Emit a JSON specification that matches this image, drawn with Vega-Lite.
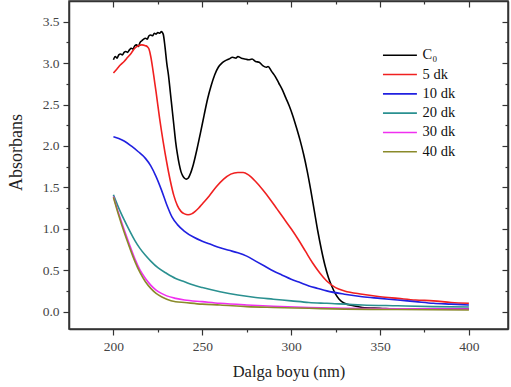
{
  "$schema": "https://vega.github.io/schema/vega-lite/v6.json",
  "width": 439,
  "height": 328,
  "autosize": {"type": "none"},
  "padding": {"left": 69, "top": 1, "right": 3, "bottom": 58},
  "background": "white",
  "config": {
    "view": {"stroke": "#333", "strokeWidth": 1.5},
    "axis": {"labelFont": "Liberation Serif", "labelFontSize": 13.5, "labelColor": "#444", "titleFont": "Liberation Serif", "titleFontSize": 16.5, "titleFontWeight": "normal", "titleColor": "#222", "domainColor": "#333", "domainWidth": 1.5, "tickColor": "#333", "tickWidth": 1.2, "grid": false}
  },
  "data": {"values": [
    {"s":"C₀","x":200,"y":3.04},{"s":"C₀","x":201,"y":3.08},{"s":"C₀","x":202,"y":3.06},{"s":"C₀","x":203,"y":3.10},{"s":"C₀","x":204,"y":3.11},{"s":"C₀","x":205,"y":3.10},{"s":"C₀","x":206,"y":3.13},{"s":"C₀","x":207,"y":3.14},{"s":"C₀","x":208,"y":3.13},{"s":"C₀","x":209,"y":3.16},{"s":"C₀","x":210,"y":3.18},{"s":"C₀","x":211,"y":3.17},{"s":"C₀","x":212,"y":3.21},{"s":"C₀","x":213,"y":3.22},{"s":"C₀","x":214,"y":3.20},{"s":"C₀","x":215,"y":3.25},{"s":"C₀","x":216,"y":3.27},{"s":"C₀","x":217,"y":3.29},{"s":"C₀","x":218,"y":3.30},{"s":"C₀","x":219,"y":3.29},{"s":"C₀","x":220,"y":3.33},{"s":"C₀","x":221,"y":3.34},{"s":"C₀","x":222,"y":3.33},{"s":"C₀","x":223,"y":3.36},{"s":"C₀","x":224,"y":3.35},{"s":"C₀","x":225,"y":3.37},{"s":"C₀","x":226,"y":3.36},{"s":"C₀","x":227,"y":3.38},{"s":"C₀","x":228,"y":3.35},{"s":"C₀","x":229,"y":3.20},{"s":"C₀","x":230,"y":3.00},{"s":"C₀","x":231,"y":2.85},{"s":"C₀","x":232,"y":2.65},{"s":"C₀","x":233,"y":2.45},{"s":"C₀","x":234,"y":2.25},{"s":"C₀","x":235,"y":2.05},{"s":"C₀","x":236,"y":1.90},{"s":"C₀","x":237,"y":1.78},{"s":"C₀","x":238,"y":1.69},{"s":"C₀","x":239,"y":1.64},{"s":"C₀","x":240,"y":1.61},{"s":"C₀","x":241,"y":1.60},{"s":"C₀","x":242,"y":1.61},{"s":"C₀","x":243,"y":1.65},{"s":"C₀","x":245,"y":1.78},{"s":"C₀","x":247,"y":1.96},{"s":"C₀","x":249,"y":2.16},{"s":"C₀","x":251,"y":2.37},{"s":"C₀","x":253,"y":2.57},{"s":"C₀","x":255,"y":2.73},{"s":"C₀","x":257,"y":2.86},{"s":"C₀","x":259,"y":2.95},{"s":"C₀","x":261,"y":3.00},{"s":"C₀","x":263,"y":3.03},{"s":"C₀","x":265,"y":3.05},{"s":"C₀","x":267,"y":3.07},{"s":"C₀","x":269,"y":3.06},{"s":"C₀","x":270,"y":3.08},{"s":"C₀","x":272,"y":3.06},{"s":"C₀","x":274,"y":3.05},{"s":"C₀","x":276,"y":3.04},{"s":"C₀","x":278,"y":3.05},{"s":"C₀","x":280,"y":3.02},{"s":"C₀","x":282,"y":3.01},{"s":"C₀","x":284,"y":2.97},{"s":"C₀","x":286,"y":2.95},{"s":"C₀","x":287,"y":2.96},{"s":"C₀","x":289,"y":2.90},{"s":"C₀","x":291,"y":2.84},{"s":"C₀","x":293,"y":2.76},{"s":"C₀","x":295,"y":2.68},{"s":"C₀","x":297,"y":2.58},{"s":"C₀","x":299,"y":2.48},{"s":"C₀","x":301,"y":2.36},{"s":"C₀","x":303,"y":2.22},{"s":"C₀","x":305,"y":2.07},{"s":"C₀","x":307,"y":1.90},{"s":"C₀","x":309,"y":1.70},{"s":"C₀","x":311,"y":1.47},{"s":"C₀","x":313,"y":1.22},{"s":"C₀","x":315,"y":0.97},{"s":"C₀","x":317,"y":0.75},{"s":"C₀","x":319,"y":0.56},{"s":"C₀","x":321,"y":0.41},{"s":"C₀","x":323,"y":0.30},{"s":"C₀","x":325,"y":0.21},{"s":"C₀","x":327,"y":0.15},{"s":"C₀","x":330,"y":0.10},{"s":"C₀","x":335,"y":0.07},{"s":"C₀","x":340,"y":0.05},{"s":"C₀","x":350,"y":0.04},{"s":"C₀","x":360,"y":0.03},{"s":"C₀","x":380,"y":0.03},{"s":"C₀","x":400,"y":0.03},
    {"s":"5 dk","x":200,"y":2.88},{"s":"5 dk","x":202,"y":2.93},{"s":"5 dk","x":204,"y":2.98},{"s":"5 dk","x":206,"y":3.02},{"s":"5 dk","x":208,"y":3.07},{"s":"5 dk","x":210,"y":3.12},{"s":"5 dk","x":212,"y":3.18},{"s":"5 dk","x":214,"y":3.21},{"s":"5 dk","x":216,"y":3.22},{"s":"5 dk","x":218,"y":3.21},{"s":"5 dk","x":219,"y":3.20},{"s":"5 dk","x":220,"y":3.17},{"s":"5 dk","x":221,"y":3.08},{"s":"5 dk","x":222,"y":2.95},{"s":"5 dk","x":223,"y":2.80},{"s":"5 dk","x":224,"y":2.65},{"s":"5 dk","x":226,"y":2.33},{"s":"5 dk","x":228,"y":2.05},{"s":"5 dk","x":230,"y":1.80},{"s":"5 dk","x":232,"y":1.58},{"s":"5 dk","x":234,"y":1.40},{"s":"5 dk","x":236,"y":1.28},{"s":"5 dk","x":238,"y":1.21},{"s":"5 dk","x":240,"y":1.18},{"s":"5 dk","x":242,"y":1.17},{"s":"5 dk","x":244,"y":1.18},{"s":"5 dk","x":246,"y":1.21},{"s":"5 dk","x":248,"y":1.25},{"s":"5 dk","x":250,"y":1.30},{"s":"5 dk","x":254,"y":1.40},{"s":"5 dk","x":258,"y":1.51},{"s":"5 dk","x":262,"y":1.60},{"s":"5 dk","x":266,"y":1.66},{"s":"5 dk","x":270,"y":1.68},{"s":"5 dk","x":273,"y":1.68},{"s":"5 dk","x":276,"y":1.65},{"s":"5 dk","x":280,"y":1.57},{"s":"5 dk","x":284,"y":1.47},{"s":"5 dk","x":288,"y":1.36},{"s":"5 dk","x":292,"y":1.24},{"s":"5 dk","x":296,"y":1.12},{"s":"5 dk","x":300,"y":1.00},{"s":"5 dk","x":304,"y":0.87},{"s":"5 dk","x":308,"y":0.73},{"s":"5 dk","x":312,"y":0.59},{"s":"5 dk","x":316,"y":0.47},{"s":"5 dk","x":320,"y":0.37},{"s":"5 dk","x":325,"y":0.29},{"s":"5 dk","x":330,"y":0.25},{"s":"5 dk","x":340,"y":0.21},{"s":"5 dk","x":350,"y":0.18},{"s":"5 dk","x":360,"y":0.16},{"s":"5 dk","x":370,"y":0.14},{"s":"5 dk","x":380,"y":0.13},{"s":"5 dk","x":390,"y":0.11},{"s":"5 dk","x":400,"y":0.10},
    {"s":"10 dk","x":200,"y":2.11},{"s":"10 dk","x":203,"y":2.09},{"s":"10 dk","x":206,"y":2.06},{"s":"10 dk","x":210,"y":2.00},{"s":"10 dk","x":214,"y":1.93},{"s":"10 dk","x":218,"y":1.85},{"s":"10 dk","x":221,"y":1.76},{"s":"10 dk","x":224,"y":1.63},{"s":"10 dk","x":227,"y":1.47},{"s":"10 dk","x":230,"y":1.29},{"s":"10 dk","x":233,"y":1.14},{"s":"10 dk","x":236,"y":1.05},{"s":"10 dk","x":240,"y":0.97},{"s":"10 dk","x":245,"y":0.90},{"s":"10 dk","x":250,"y":0.85},{"s":"10 dk","x":255,"y":0.81},{"s":"10 dk","x":260,"y":0.77},{"s":"10 dk","x":265,"y":0.74},{"s":"10 dk","x":270,"y":0.71},{"s":"10 dk","x":275,"y":0.67},{"s":"10 dk","x":280,"y":0.61},{"s":"10 dk","x":285,"y":0.55},{"s":"10 dk","x":290,"y":0.49},{"s":"10 dk","x":295,"y":0.44},{"s":"10 dk","x":300,"y":0.39},{"s":"10 dk","x":305,"y":0.35},{"s":"10 dk","x":310,"y":0.31},{"s":"10 dk","x":315,"y":0.28},{"s":"10 dk","x":320,"y":0.25},{"s":"10 dk","x":330,"y":0.21},{"s":"10 dk","x":340,"y":0.18},{"s":"10 dk","x":350,"y":0.16},{"s":"10 dk","x":360,"y":0.14},{"s":"10 dk","x":370,"y":0.12},{"s":"10 dk","x":380,"y":0.10},{"s":"10 dk","x":390,"y":0.09},{"s":"10 dk","x":400,"y":0.08},
    {"s":"20 dk","x":200,"y":1.41},{"s":"20 dk","x":203,"y":1.25},{"s":"20 dk","x":206,"y":1.11},{"s":"20 dk","x":209,"y":0.98},{"s":"20 dk","x":212,"y":0.86},{"s":"20 dk","x":215,"y":0.76},{"s":"20 dk","x":218,"y":0.68},{"s":"20 dk","x":221,"y":0.61},{"s":"20 dk","x":225,"y":0.53},{"s":"20 dk","x":230,"y":0.46},{"s":"20 dk","x":235,"y":0.40},{"s":"20 dk","x":240,"y":0.36},{"s":"20 dk","x":245,"y":0.32},{"s":"20 dk","x":250,"y":0.29},{"s":"20 dk","x":260,"y":0.24},{"s":"20 dk","x":270,"y":0.20},{"s":"20 dk","x":280,"y":0.17},{"s":"20 dk","x":290,"y":0.15},{"s":"20 dk","x":300,"y":0.13},{"s":"20 dk","x":310,"y":0.11},{"s":"20 dk","x":320,"y":0.10},{"s":"20 dk","x":340,"y":0.08},{"s":"20 dk","x":360,"y":0.07},{"s":"20 dk","x":380,"y":0.06},{"s":"20 dk","x":400,"y":0.055},
    {"s":"30 dk","x":200,"y":1.39},{"s":"30 dk","x":203,"y":1.18},{"s":"30 dk","x":206,"y":0.99},{"s":"30 dk","x":209,"y":0.81},{"s":"30 dk","x":212,"y":0.64},{"s":"30 dk","x":215,"y":0.50},{"s":"30 dk","x":218,"y":0.40},{"s":"30 dk","x":221,"y":0.32},{"s":"30 dk","x":224,"y":0.26},{"s":"30 dk","x":227,"y":0.22},{"s":"30 dk","x":230,"y":0.19},{"s":"30 dk","x":235,"y":0.16},{"s":"30 dk","x":240,"y":0.14},{"s":"30 dk","x":250,"y":0.12},{"s":"30 dk","x":260,"y":0.10},{"s":"30 dk","x":275,"y":0.08},{"s":"30 dk","x":290,"y":0.065},{"s":"30 dk","x":310,"y":0.05},{"s":"30 dk","x":330,"y":0.04},{"s":"30 dk","x":360,"y":0.035},{"s":"30 dk","x":400,"y":0.03},
    {"s":"40 dk","x":200,"y":1.38},{"s":"40 dk","x":203,"y":1.16},{"s":"40 dk","x":206,"y":0.96},{"s":"40 dk","x":209,"y":0.78},{"s":"40 dk","x":212,"y":0.61},{"s":"40 dk","x":215,"y":0.47},{"s":"40 dk","x":218,"y":0.36},{"s":"40 dk","x":221,"y":0.28},{"s":"40 dk","x":224,"y":0.22},{"s":"40 dk","x":227,"y":0.18},{"s":"40 dk","x":230,"y":0.15},{"s":"40 dk","x":235,"y":0.12},{"s":"40 dk","x":240,"y":0.11},{"s":"40 dk","x":250,"y":0.09},{"s":"40 dk","x":260,"y":0.08},{"s":"40 dk","x":275,"y":0.06},{"s":"40 dk","x":290,"y":0.05},{"s":"40 dk","x":310,"y":0.04},{"s":"40 dk","x":330,"y":0.03},{"s":"40 dk","x":360,"y":0.025},{"s":"40 dk","x":400,"y":0.02}
  ]},
  "layer": [
    {
      "mark": {"type": "line", "strokeWidth": 1.6, "interpolate": "monotone"},
      "encoding": {
        "x": {"field": "x", "type": "quantitative", "scale": {"domain": [175, 422], "nice": false, "zero": false},
          "axis": {"title": "Dalga boyu (nm)", "orient": "bottom", "values": [200,225,250,275,300,325,350,375,400],
            "labelExpr": "datum.value % 50 === 0 ? datum.label : ''",
            "tickSize": {"condition": {"test": "datum.value % 50 === 0", "value": 6}, "value": 3},
            "labelPadding": 4, "titlePadding": 11}},
        "y": {"field": "y", "type": "quantitative", "scale": {"domain": [-0.21, 3.75], "nice": false, "zero": false},
          "axis": {"title": "Absorbans", "titleFontSize": 18, "titleY": 151, "orient": "left", "values": [0,0.25,0.5,0.75,1,1.25,1.5,1.75,2,2.25,2.5,2.75,3,3.25,3.5],
            "labelExpr": "datum.value % 0.5 === 0 ? format(datum.value, '.1f') : ''",
            "tickSize": {"condition": {"test": "datum.value % 0.5 === 0", "value": 6}, "value": 3},
            "labelPadding": 4, "titlePadding": 17}},
        "color": {"field": "s", "type": "nominal", "sort": ["C₀","5 dk","10 dk","20 dk","30 dk","40 dk"],
          "scale": {"domain": ["C₀","5 dk","10 dk","20 dk","30 dk","40 dk"], "range": ["#000000","#f02020","#2020e0","#2a9090","#f030f0","#8a8a2a"]},
          "legend": {"title": null, "orient": "none", "legendX": 335, "legendY": 47, "padding": 0,
            "symbolType": "M-5,0H1", "symbolSize": 128, "symbolStrokeWidth": 1.6, "symbolFillColor": "transparent", "labelFont": "Liberation Serif", "labelFontSize": 14.5, "labelColor": "#111", "labelOffset": 4, "rowPadding": 4.3}}
      }
    },
    {
      "mark": {"type": "line", "opacity": 0},
      "encoding": {
        "x": {"field": "x", "type": "quantitative",
          "axis": {"title": null, "orient": "top", "labels": false, "values": [200,225,250,275,300,325,350,375,400],
            "tickSize": {"condition": {"test": "datum.value % 50 === 0", "value": -6}, "value": -3}}},
        "y": {"field": "y", "type": "quantitative",
          "axis": {"title": null, "orient": "right", "labels": false, "values": [0,0.25,0.5,0.75,1,1.25,1.5,1.75,2,2.25,2.5,2.75,3,3.25,3.5],
            "tickSize": {"condition": {"test": "datum.value % 0.5 === 0", "value": -6}, "value": -3}}},
        "detail": {"field": "s"}
      }
    }
  ],
  "resolve": {"axis": {"x": "independent", "y": "independent"}}
}
